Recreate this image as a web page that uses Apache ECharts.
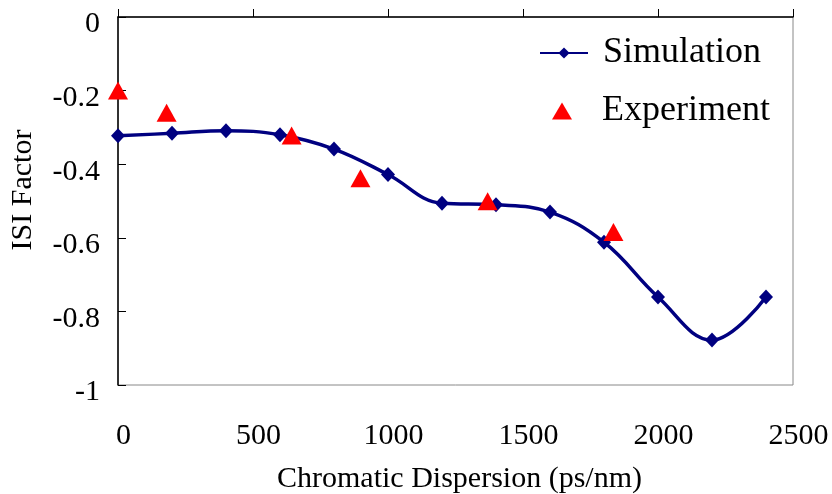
<!DOCTYPE html>
<html>
<head>
<meta charset="utf-8">
<script src="https://cdn.jsdelivr.net/npm/echarts@6/dist/echarts.min.js"></script>
<style>
  html, body { margin: 0; padding: 0; background: #fff; }
  #chart { width: 832px; height: 494px; }
</style>
</head>
<body>
<div id="chart"></div>
<script>
// simulation curve (markers every 200 ps/nm)
const simX = [0, 200, 400, 600, 800, 1000, 1200, 1400, 1600, 1800, 2000, 2200, 2400]
const simY = [-0.323, -0.316, -0.309, -0.32, -0.359, -0.428, -0.506, -0.51, -0.53, -0.612, -0.761, -0.878, -0.761]
// measured points
const expX = [0, 180, 643, 898, 1369, 1835]
const expY = [-0.2, -0.26, -0.322, -0.438, -0.501, -0.584]

const font = "'Liberation Serif', 'Times New Roman', serif"

const chart = echarts.init(document.getElementById('chart'))

chart.setOption({
  animation: false,
  textStyle: { fontFamily: font },
  grid: {
    left: 118, right: 39, top: 17, bottom: 109,
    outerBoundsMode: 'none',
    show: true, borderColor: '#888', borderWidth: 1
  },
  legend: [
    {
      left: 534,
      top: 30,
      itemWidth: 48,
      itemHeight: 14,
      textStyle: { fontSize: 36, color: '#000', fontFamily: font, padding: [0, 0, 0, 10] },
      data: ['Simulation']
    },
    {
      left: 547,
      top: 88,
      itemWidth: 20,
      itemHeight: 17,
      textStyle: { fontSize: 36, color: '#000', fontFamily: font, padding: [0, 0, 0, 25] },
      data: ['Experiment']
    }
  ],
  xAxis: {
    type: 'value',
    min: 0, max: 2500, interval: 500,
    name: 'Chromatic Dispersion (ps/nm)',
    nameLocation: 'middle',
    nameGap: 79,
    nameTextStyle: { fontSize: 30, color: '#000', fontFamily: font, padding: [0, 0, 0, 8] },
    axisLine: { lineStyle: { color: '#000', width: 1.5 } },
    axisTick: { inside: true, length: 8, lineStyle: { color: '#000' } },
    axisLabel: {
      fontSize: 30, color: '#000', margin: 36, padding: [0, 0, 0, 11], fontFamily: font,
      formatter: v => String(v)
    },
    splitLine: { show: false }
  },
  yAxis: {
    type: 'value',
    min: -1, max: 0, interval: 0.2,
    name: 'ISI Factor',
    nameLocation: 'middle',
    nameGap: 80,
    nameTextStyle: { fontSize: 30, color: '#000', fontFamily: font, padding: [0, 0, 0, 22] },
    axisLine: { lineStyle: { color: '#000', width: 1.5 } },
    axisTick: { inside: true, length: 8, lineStyle: { color: '#000' } },
    axisLabel: {
      fontSize: 30, color: '#000', margin: 18, fontFamily: font,
      verticalAlign: 'top', lineHeight: 15
    },
    splitLine: { show: false }
  },
  series: [
    {
      name: 'Simulation',
      type: 'line',
      smooth: 0.4,
      symbol: 'diamond',
      symbolSize: [14, 15],
      color: '#000080',
      lineStyle: { width: 3.5, color: '#000080' },
      itemStyle: { color: '#000080' },
      data: simX.map((x, i) => [x, simY[i]])
    },
    {
      name: 'Experiment',
      type: 'scatter',
      symbol: 'triangle',
      symbolSize: [20, 18],
      itemStyle: { color: '#ff0000', opacity: 1 },
      data: expX.map((x, i) => [x, expY[i]]),
      z: 3
    }
  ]
})
</script>
</body>
</html>
